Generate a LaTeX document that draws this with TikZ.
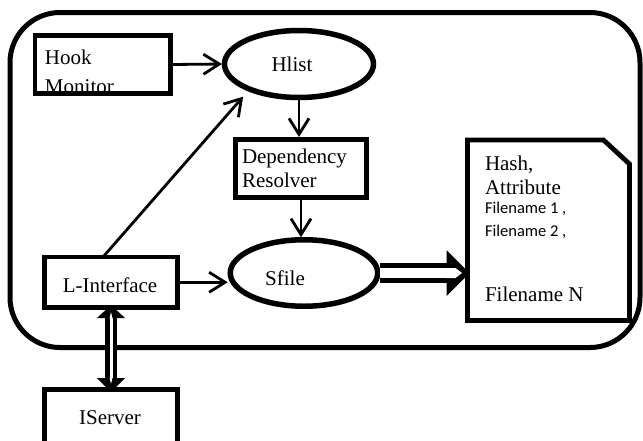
\documentclass[tikz,border=0pt]{standalone}
\usepackage{fontspec}
\setmainfont{Liberation Serif}
\newfontfamily\calibfont{Carlito}
\usetikzlibrary{arrows.meta,shapes.geometric}
\begin{document}
\begin{tikzpicture}[x=1pt,y=-1pt,
  txt/.style={font=\fontsize{21}{25}\selectfont, inner sep=0pt, outer sep=0pt},
  smalltxt/.style={font=\calibfont\fontsize{16.5}{20}\selectfont, inner sep=0pt, outer sep=0pt},
  box/.style={draw, rectangle, line width=4.8pt, inner sep=0pt, outer sep=0pt},
  oval/.style={draw, ellipse, line width=5.5pt, inner sep=0pt, outer sep=0pt},
  link/.style={line width=2.8pt, shorten >=2.5pt,
    -{Straight Barb[length=16pt,width=20pt]}},
  dblshaft/.style={line width=4.5pt, double=white, double distance=3pt, line cap=butt},
  bigshaft/.style={line width=5pt, double=white, double distance=10pt, line cap=butt}]

\useasboundingbox (0,0) rectangle (643,440);
\fill[white] (0,0) rectangle (643,440);
\clip (0,0) rectangle (643,440);

% surrounding frame
\node[draw, rectangle, line width=5pt, rounded corners=50pt, inner sep=0pt, outer sep=0pt,
      minimum width=630pt, minimum height=335pt] (frame) at (325,180) {};

% Hook Monitor (label is overlapped by the box border)
\node[txt, anchor=base west] (hookA) at (45,64) {Hook};
\node[txt, anchor=base west] (hookB) at (45,93.5) {Monitor};
\node[box, minimum width=135.5pt, minimum height=58pt] (hook) at (102.75,64.5) {};

% Hlist
\node[oval, minimum width=149pt, minimum height=67pt] (hlist) at (299,64) {};
\node[txt, anchor=base] (hlistT) at (292,71) {Hlist};

% Dependency Resolver
\node[box, minimum width=131pt, minimum height=58pt] (dr) at (301,168.5) {};
\node[txt, anchor=base west] (drA) at (242,163) {Dependency};
\node[txt, anchor=base west] (drB) at (242,187) {Resolver};

% Sfile
\node[oval, minimum width=147.5pt, minimum height=66.5pt] (sfile) at (304,273) {};
\node[txt, anchor=base] (sfileT) at (285,285) {Sfile};

% L-Interface
\node[box, minimum width=133pt, minimum height=50.5pt] (li) at (111,282.25) {};
\node[txt, anchor=base] (liT) at (110,292) {L-Interface};

% IServer
\node[box, minimum width=133pt, minimum height=70pt] (is) at (111,424.5) {};
\node[txt, anchor=base] (isT) at (110,424) {IServer};

% hash table document with a cut corner
\node[inner sep=0pt, outer sep=0pt, minimum width=162pt, minimum height=180.5pt] (hash) at (548.5,230.25) {};
\draw[line width=4.8pt, line join=miter]
  (hash.south west) -- (hash.north west) -- ([xshift=-26pt]hash.north east)
  -- ([yshift=-24pt]hash.north east) -- (hash.south east) -- cycle;
\node[txt, anchor=base west] (hA) at (485,170) {Hash,};
\node[txt, anchor=base west] (hB) at (485,194) {Attribute};
\node[smalltxt, anchor=base west] (hC) at (485,213) {Filename 1 ,};
\node[smalltxt, anchor=base west] (hD) at (485,236) {Filename 2 ,};
\node[txt, anchor=base west] (hE) at (485,301) {Filename N};

% plain connectors
\draw[link] (hook.east) -- (hlist.west);
\draw[link] (hlist.south) -- (hlist.south |- dr.north);
\draw[link] (dr.south) -- (dr.south |- sfile.north);
\draw[link] (li.east) -- (li.east -| sfile.west);
\draw[link, shorten >=10pt] ([xshift=-8pt]li.north) -- (hlist.207);

% two-way link between L-Interface and IServer: double shaft, solid heads
% with the shaft's white core running into them
\draw[dblshaft] ([yshift=-10pt]li.south) -- ([yshift=11pt]is.north);
\fill ([yshift=2.5pt]li.south) -- ([xshift=14pt,yshift=-10.5pt]li.south)
  -- ([xshift=-14pt,yshift=-10.5pt]li.south) -- cycle;
\fill[white] ([yshift=-4.5pt]li.south) -- ([xshift=1.5pt,yshift=-11pt]li.south)
  -- ([xshift=-1.5pt,yshift=-11pt]li.south) -- cycle;
\fill ([yshift=-2.5pt]is.north) -- ([xshift=14pt,yshift=11.5pt]is.north)
  -- ([xshift=-14pt,yshift=11.5pt]is.north) -- cycle;
\fill[white] ([yshift=5.5pt]is.north) -- ([xshift=1.5pt,yshift=12pt]is.north)
  -- ([xshift=-1.5pt,yshift=12pt]is.north) -- cycle;

% wide arrow from Sfile into the hash table
\coordinate (bigtip) at (sfile.east -| hash.west);
\draw[bigshaft] ([xshift=2.5pt]sfile.east) -- ([xshift=-20pt]bigtip);
\fill ([xshift=2pt]bigtip) -- ([xshift=-21pt,yshift=23pt]bigtip)
  -- ([xshift=-21pt,yshift=-23pt]bigtip) -- cycle;
\fill[white] ([xshift=-21.5pt,yshift=5pt]bigtip) -- ([xshift=-12pt,yshift=5pt]bigtip)
  -- ([xshift=-5.5pt]bigtip) -- ([xshift=-12pt,yshift=-5pt]bigtip)
  -- ([xshift=-21.5pt,yshift=-5pt]bigtip) -- cycle;
\end{tikzpicture}
\end{document}
